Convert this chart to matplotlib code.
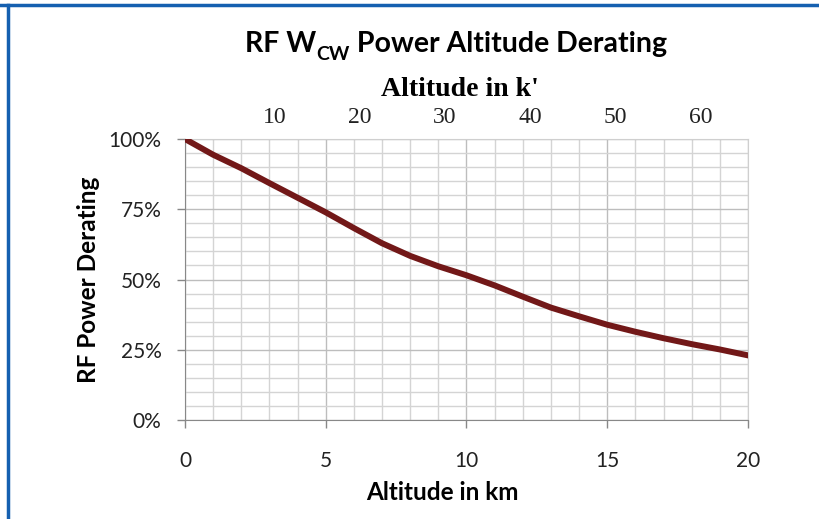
# RF power altitude derating chart
import matplotlib.pyplot as plt
from matplotlib.lines import Line2D

# Data (km, fraction of full power in %)
alt_km = [0, 1, 2, 3, 4, 5, 6, 7, 8, 9, 10, 11, 12, 13, 14, 15, 16, 17, 18, 19, 20]
derating = [100, 94.4, 89.6, 84.3, 79.1, 73.9, 68.3, 62.9, 58.4, 54.7, 51.5,
            47.9, 43.9, 40.0, 36.9, 33.9, 31.4, 29.1, 27.0, 25.1, 23.0]

x_ticks = [0, 5, 10, 15, 20]
y_ticks = [0, 25, 50, 75, 100]
y_labels = ["0%", "25%", "50%", "75%", "100%"]
kft_ticks = [10, 20, 30, 40, 50, 60]

plt.rcParams['font.family'] = ['Lato', 'DejaVu Sans']
serif = ["Liberation Serif", "DejaVu Serif"]

fig = plt.figure(figsize=(8.2, 5.19), dpi=100)
ax = fig.add_axes([0.2256, 1 - 420 / 519, 0.6866, 281 / 519])

ax.plot(alt_km, derating, color="#721818", linewidth=4.3,
        solid_joinstyle="round", zorder=3)

ax.set_xlim(0, 20)
ax.set_ylim(0, 100)
ax.set_xticks(x_ticks)
ax.set_xticks(range(0, 21), minor=True)
ax.set_yticks(y_ticks)
ax.set_yticklabels(y_labels)
ax.set_yticks(range(0, 101, 5), minor=True)
ax.grid(which="minor", color="#d4d4d4", linewidth=1.0)
ax.grid(which="major", color="#bdbdbd", linewidth=1.0)
ax.set_axisbelow(True)

ax.tick_params(axis="both", which="major", labelsize=15, labelcolor="#222222",
               color="#888888", length=6, width=1)
ax.tick_params(axis="x", which="major", pad=16)
ax.tick_params(axis="y", which="major", pad=11)
ax.tick_params(which="minor", length=0)
for s in ["top", "right"]:
    ax.spines[s].set_color("#cfcfcf")
for s in ["left", "bottom"]:
    ax.spines[s].set_color("#888888")

ax.set_ylabel("RF Power Derating", fontsize=17.5, fontweight="bold", labelpad=6)
fig.text(442 / 820, 1 - 492 / 519, "Altitude in km", ha="center", va="center",
         fontsize=17.5, fontweight="bold")

# top axis in thousands of feet
ax2 = ax.twiny()
ax2.set_xlim(-0.5, 65.6)
ax2.set_xticks(kft_ticks)
ax2.tick_params(axis="x", length=0, labelsize=17, pad=8, labelcolor="#222222")
for lbl in ax2.get_xticklabels():
    lbl.set_family(serif)
for s in ax2.spines.values():
    s.set_visible(False)
fig.text(460 / 820, 1 - 90 / 519, "Altitude in k'", ha="center", va="center",
         fontsize=20, fontweight="bold", family=serif)

# title with a real subscript, built from three pieces
fig.canvas.draw()
r = fig.canvas.get_renderer()
ty = 1 - 52 / 519
parts = [("RF W", 20.5, 0), ("CW", 14, -8), (" Power Altitude Derating", 20.5, 0)]
texts = []
for s, fs, dy in parts:
    texts.append(fig.text(0, ty + dy / 519, s, fontsize=fs, fontweight="bold",
                          ha="left", va="baseline"))
widths = [t.get_window_extent(r).width / 820 for t in texts]
x = 456 / 820 - sum(widths) / 2
for t, w in zip(texts, widths):
    t.set_x(x)
    x += w

# blue frame at top and left
fig.add_artist(Line2D([0.0, 1.0], [0.991, 0.991], color="#1560b0", linewidth=2.5))
fig.add_artist(Line2D([0.0095, 0.0095], [0.0, 0.991], color="#1560b0", linewidth=2.5))

fig.savefig("out.png", dpi=100)
